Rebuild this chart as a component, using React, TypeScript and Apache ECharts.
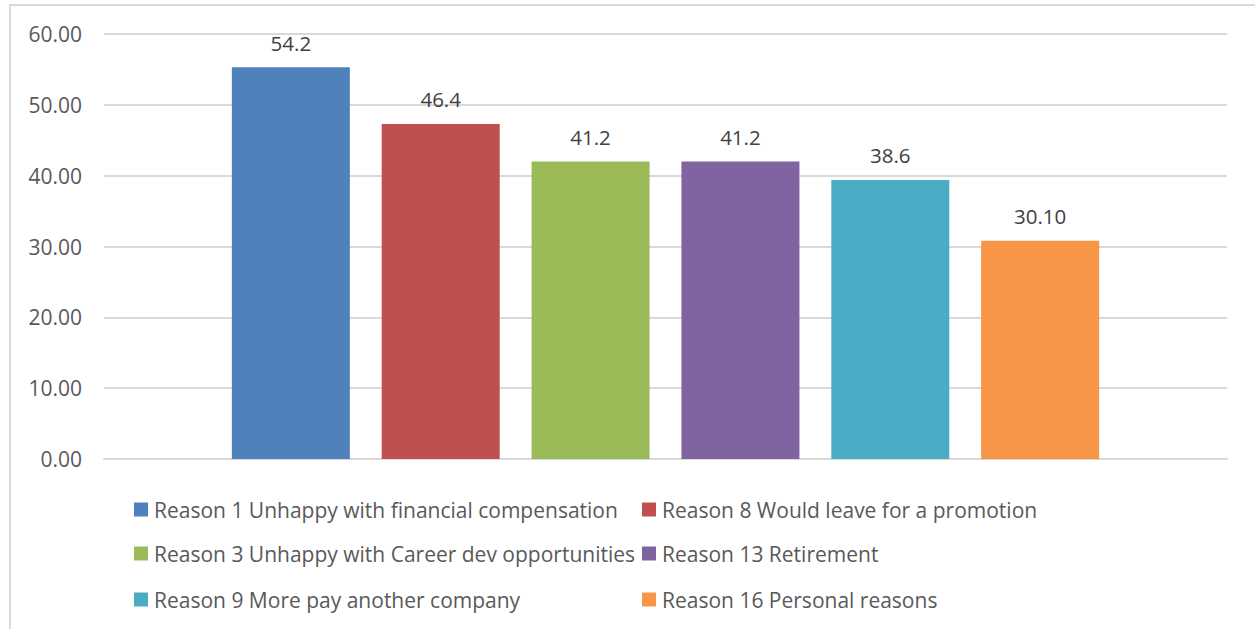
import React, { useEffect, useRef } from "react";
import * as echarts from "echarts";

const seriesNames = [
  "Reason 1 Unhappy with financial compensation",
  "Reason 8 Would leave for a promotion",
  "Reason 3 Unhappy with Career dev opportunities",
  "Reason 13 Retirement",
  "Reason 9 More pay another company",
  "Reason 16 Personal reasons",
];
const barValues = [55.3, 47.3, 42.0, 42.0, 39.4, 30.8];
const labelTexts = ["54.2", "46.4", "41.2", "41.2", "38.6", "30.10"];
const colors = ["#4F81BD", "#C0504D", "#9BBB59", "#8064A2", "#4BACC6", "#F79646"];
const categories = [""];
const yTicks = { min: 0, max: 60, interval: 10 };

const FONT = "'Open Sans', 'Noto Sans', sans-serif";

export default function App() {
  const ref = useRef<HTMLDivElement>(null);
  useEffect(() => {
    if (!ref.current) return;
    const chart = echarts.init(ref.current, undefined, { renderer: "svg" });
    const legendPos = [
      { left: 134, top: 499 },
      { left: 642, top: 499 },
      { left: 134, top: 543 },
      { left: 642, top: 543 },
      { left: 134, top: 589 },
      { left: 642, top: 589 },
    ];
    chart.setOption({
      animation: false,
      textStyle: { fontFamily: FONT },
      graphic: [
        {
          type: "rect",
          shape: { x: 10, y: 5, width: 1300, height: 700 },
          style: { fill: "none", stroke: "#d9d9d9", lineWidth: 2 },
          silent: true,
        },
      ],
      grid: { left: 104, right: 28, top: 34, bottom: 170 },
      legend: seriesNames.map((n, i) => ({
        data: [n],
        left: legendPos[i].left,
        top: legendPos[i].top,
        icon: "rect",
        itemWidth: 14,
        itemHeight: 14,
        selectedMode: false,
        textStyle: { fontFamily: FONT, fontSize: 21, color: "#595959", padding: [0, 0, 0, 1] },
        padding: 0,
      })),
      xAxis: {
        type: "category",
        data: categories,
        axisLine: { lineStyle: { color: "#d9d9d9", width: 2 } },
        axisTick: { show: false },
        axisLabel: { show: false },
      },
      yAxis: {
        type: "value",
        min: yTicks.min,
        max: yTicks.max,
        interval: yTicks.interval,
        axisLine: { show: false },
        axisTick: { show: false },
        axisLabel: {
          formatter: (v: number) => v.toFixed(2),
          fontFamily: FONT,
          fontSize: 21,
          color: "#595959",
          margin: 22,
        },
        splitLine: { lineStyle: { color: "#d9d9d9", width: 2 } },
      },
      series: seriesNames.map((n, i) => ({
        type: "bar",
        name: n,
        data: [barValues[i]],
        barWidth: 118,
        barGap: "27%",
        itemStyle: { color: colors[i] },
        label: {
          show: true,
          position: "top",
          distance: 14,
          formatter: () => labelTexts[i],
          fontFamily: FONT,
          fontSize: 20.5,
          color: "#404040",
        },
      })),
    });
    return () => chart.dispose();
  }, []);
  return (
    <div
      ref={ref}
      style={{ position: "fixed", left: 0, top: 0, width: 1255, height: 629, background: "#fff" }}
    />
  );
}
